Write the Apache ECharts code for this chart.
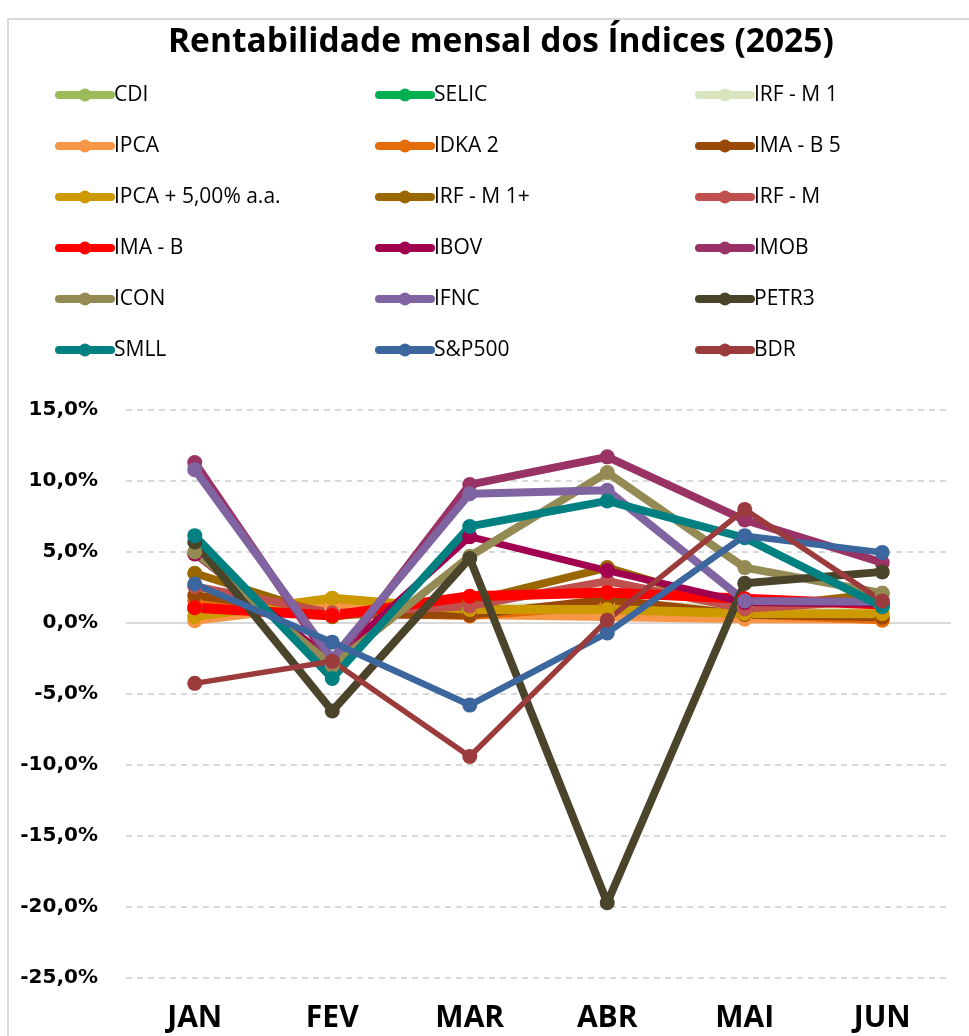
<!DOCTYPE html>
<html>
<head>
<meta charset="utf-8">
<script src="https://cdn.jsdelivr.net/npm/echarts@6/dist/echarts.min.js"></script>
<style>
  html, body { margin: 0; padding: 0; background: #fff; }
  #chart { width: 969px; height: 1036px; }
</style>
</head>
<body>
<div id="chart"></div>
<script>
  const months = ['JAN', 'FEV', 'MAR', 'ABR', 'MAI', 'JUN'];

  // rentabilidade mensal (%)
  const cdi      = [1.01, 0.99, 0.96, 1.06, 1.14, 1.10];
  const selic    = [1.01, 0.99, 0.96, 1.06, 1.14, 1.10];
  const irfM1    = [1.20, 0.95, 1.00, 1.30, 1.10, 1.10];
  const ipca     = [0.16, 1.31, 0.56, 0.43, 0.26, 0.24];
  const idka2    = [1.60, 0.70, 0.50, 1.20, 0.60, 0.20];
  const imaB5    = [1.95, 0.62, 0.56, 1.65, 0.60, 0.40];
  const ipca5    = [0.45, 1.75, 0.95, 0.95, 0.67, 0.65];
  const irfM1p   = [3.50, 0.44, 1.50, 3.90, 1.00, 2.10];
  const irfM     = [2.58, 0.70, 1.20, 2.95, 1.00, 1.60];
  const imaB     = [1.08, 0.52, 1.88, 2.15, 1.70, 1.30];
  const ibov     = [4.86, -2.64, 6.08, 3.69, 1.45, 1.33];
  const imob     = [11.3, -2.90, 9.75, 11.7, 7.25, 4.25];
  const icon     = [5.00, -3.00, 4.70, 10.6, 3.90, 2.10];
  const ifnc     = [10.8, -2.50, 9.10, 9.35, 1.55, 1.50];
  const petr3    = [5.70, -6.20, 4.55, -19.7, 2.80, 3.60];
  const smll     = [6.15, -3.90, 6.80, 8.60, 6.00, 1.15];
  const sp500    = [2.75, -1.35, -5.78, -0.70, 6.15, 4.97];
  const bdr      = [-4.25, -2.70, -9.40, 0.20, 8.00, 1.55];

  const seriesNames = ['CDI', 'SELIC', 'IRF - M 1', 'IPCA', 'IDKA 2', 'IMA - B 5',
    'IPCA + 5,00% a.a.', 'IRF - M 1+', 'IRF - M', 'IMA - B', 'IBOV', 'IMOB',
    'ICON', 'IFNC', 'PETR3', 'SMLL', 'S&P500', 'BDR'];
  const seriesData = [cdi, selic, irfM1, ipca, idka2, imaB5, ipca5, irfM1p, irfM,
    imaB, ibov, imob, icon, ifnc, petr3, smll, sp500, bdr];

  const colors = ['#9BBB59', '#00B050', '#D7E4BD', '#F79646', '#E36C09', '#984807',
    '#CC9900', '#996600', '#C0504D', '#FF0000', '#A0004F', '#993366',
    '#948A54', '#8064A2', '#4A452A', '#008080', '#3B679E', '#9C3B3B'];
  const widths = [8, 8, 8, 8, 8, 8, 9, 8, 8, 10, 7, 8, 8, 8, 8, 8, 6.5, 5.5];

  const font = "'Open Sans', sans-serif";

  const chart = echarts.init(document.getElementById('chart'));

  const legendCols = [
    ['CDI', 'IPCA', 'IPCA + 5,00% a.a.', 'IMA - B', 'ICON', 'SMLL'],
    ['SELIC', 'IDKA 2', 'IRF - M 1+', 'IBOV', 'IFNC', 'S&P500'],
    ['IRF - M 1', 'IMA - B 5', 'IRF - M', 'IMOB', 'PETR3', 'BDR'],
  ];

  const legends = legendCols.map((col, i) => ({
    data: col,
    orient: 'vertical',
    left: 55 + i * 320,
    top: 84,
    padding: 0,
    itemWidth: 52,
    itemHeight: 16,
    itemGap: 29,
    selectedMode: false,
    lineStyle: { width: 8, cap: 'round' },
    textStyle: {
      fontFamily: font,
      fontSize: 21,
      lineHeight: 22,
      color: '#000',
      padding: [0, 0, 0, -2],
    },
  }));

  const series = seriesNames.map((name, i) => ({
    name: name,
    type: 'line',
    data: seriesData[i],
    symbol: 'circle',
    symbolSize: 15,
    color: colors[i],
    lineStyle: { width: widths[i], color: colors[i] },
    itemStyle: { color: colors[i] },
    emphasis: { disabled: true },
    markLine: i === 0 ? {
      silent: true,
      symbol: 'none',
      label: { show: false },
      lineStyle: { color: '#d9d9d9', type: 'solid', width: 2 },
      data: [{ yAxis: 0 }],
      z: 1,
    } : undefined,
  }));

  const option = {
    backgroundColor: '#fff',
    animation: false,
    title: {
      text: 'Rentabilidade mensal dos Índices (2025)',
      left: 163,
      top: 20,
      textStyle: {
        fontFamily: font,
        fontSize: 33.5,
        fontWeight: 'bold',
        color: '#000',
      },
    },
    graphic: [{
      type: 'rect',
      shape: { x: 8, y: 19, width: 1000, height: 1100 },
      style: { fill: 'none', stroke: '#d9d9d9', lineWidth: 2 },
      silent: true,
    }],
    legend: legends,
    grid: {
      left: 126,
      right: 18,
      top: 410,
      bottom: 58,
    },
    xAxis: {
      type: 'category',
      data: months,
      axisLine: { show: false },
      axisTick: { show: false },
      axisLabel: {
        margin: 25,
        fontFamily: font,
        fontSize: 30,
        fontWeight: 'bold',
        color: '#000',
      },
    },
    yAxis: {
      type: 'value',
      min: -25,
      max: 15,
      interval: 5,
      axisLine: { show: false },
      axisTick: { show: false },
      axisLabel: {
        margin: 28,
        fontFamily: 'DejaVu Sans',
        fontSize: 20,
        fontWeight: 'bold',
        color: '#000',
        formatter: (v) => v.toFixed(1).replace('.', ',') + '%',
      },
      splitLine: {
        lineStyle: { color: '#d9d9d9', type: [6, 5], width: 2 },
      },
    },
    series: series,
  };

  chart.setOption(option);
</script>
</body>
</html>
